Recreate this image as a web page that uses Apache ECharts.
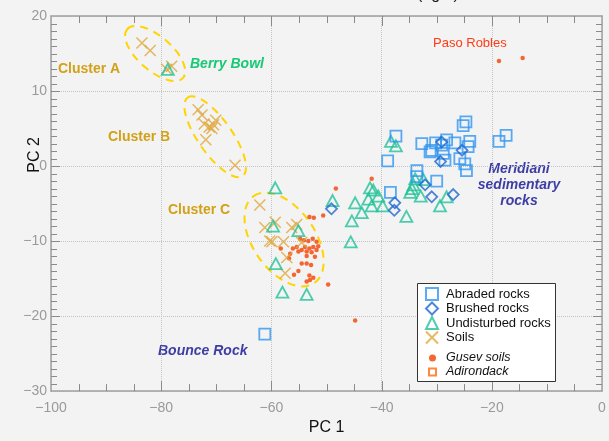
<!DOCTYPE html>
<html>
<head>
<meta charset="UTF-8">
<title>PC1 vs PC2</title>
<script src="https://cdn.jsdelivr.net/npm/echarts@6/dist/echarts.min.js"></script>
<style>
  html, body { margin: 0; padding: 0; background: #f3f3f3; }
  #chart { width: 609px; height: 441px; }
</style>
</head>
<body>
<div id="chart"></div>
<script>
// axis ranges / ticks
var xMin = -100, xMax = 0, xStep = 20;
var yMin = -30, yMax = 20, yStep = 10;
// frame tick positions (every 5 on PC 1, every 1 on PC 2)
var xTicks = [-95, -90, -85, -80, -75, -70, -65, -60, -55, -50, -45, -40, -35, -30, -25, -20, -15, -10, -5];
var yTicks = [-29, -28, -27, -26, -25, -24, -23, -22, -21, -20, -19, -18, -17, -16, -15, -14, -13, -12, -11, -10,
  -9, -8, -7, -6, -5, -4, -3, -2, -1, 0, 1, 2, 3, 4, 5, 6, 7, 8, 9, 10, 11, 12, 13, 14, 15, 16, 17, 18, 19];

// Abraded rocks (blue squares)
var abraded = [
  [-24.7, 5.9], [-25.2, 5.4], [-37.4, 4.0], [-17.4, 4.1], [-18.7, 3.3],
  [-32.7, 3.0], [-30.2, 3.1], [-28.2, 3.5], [-26.7, 3.1], [-24.0, 3.3],
  [-30.9, 2.1], [-29.1, 2.8], [-24.3, 2.6], [-31.2, 1.9], [-28.8, 1.7],
  [-38.9, 0.7], [-28.5, 0.8], [-25.8, 1.0], [-24.9, 0.3], [-24.6, -0.6],
  [-33.6, -0.6], [-33.6, -1.4], [-30.0, -2.0], [-38.4, -3.5], [-61.2, -22.4]
];
// Brushed rocks (blue diamonds)
var brushed = [
  [-29.1, 3.2], [-25.4, 2.1], [-29.3, 0.6], [-32.1, -2.5], [-30.9, -4.1],
  [-27.0, -3.8], [-37.6, -4.9], [-37.7, -5.9], [-49.1, -5.7]
];
// Undisturbed rocks (green triangles)
var undisturbed = [
  [-78.8, 12.9], [-38.3, 3.3], [-37.4, 2.7], [-42.1, -2.9], [-41.5, -3.2],
  [-33.9, -1.7], [-32.4, -1.8], [-34.2, -2.5], [-34.5, -3.0], [-34.8, -3.5],
  [-32.9, -4.0], [-28.2, -4.1], [-29.4, -5.3], [-35.5, -6.7], [-40.6, -4.0],
  [-42.4, -4.4], [-44.8, -4.9], [-41.8, -5.3], [-39.8, -5.3], [-43.6, -6.2],
  [-45.4, -7.3], [-48.9, -4.6], [-59.3, -2.9], [-59.7, -8.0], [-55.1, -8.6],
  [-59.2, -13.0], [-58.0, -16.8], [-53.6, -17.1], [-45.6, -10.1]
];
// Soils (orange crosses) - clusters A, B, C
var soils = [
  [-83.5, 16.4], [-82.0, 15.4], [-78.1, 13.3], [-79.0, 12.9],
  [-73.3, 7.5], [-72.6, 6.8], [-72.2, 5.6], [-71.3, 5.2], [-70.5, 5.5],
  [-70.1, 6.1], [-70.8, 5.0], [-71.9, 3.5], [-66.6, 0.1],
  [-62.1, -5.2], [-61.2, -8.2], [-59.3, -7.5], [-56.3, -8.2], [-55.4, -7.8],
  [-60.3, -10.0], [-59.9, -10.1], [-57.8, -10.1], [-54.5, -10.2],
  [-57.2, -12.2], [-57.5, -14.3]
];
// Gusev soils (small red-orange stars)
var gusev = [
  [-53.1, -6.8], [-52.3, -6.9], [-50.6, -6.6], [-54.8, -9.7], [-54.1, -9.9],
  [-53.3, -10.0], [-52.5, -9.7], [-51.8, -10.1], [-51.5, -10.7], [-52.4, -10.8],
  [-53.1, -11.0], [-53.9, -10.8], [-54.5, -11.2], [-55.1, -11.4], [-53.6, -11.4],
  [-52.7, -11.5], [-51.8, -11.2], [-55.4, -10.8], [-56.1, -11.0], [-56.6, -11.7],
  [-56.8, -12.3], [-58.3, -11.0], [-52.1, -12.1], [-53.6, -12.0], [-54.5, -13.0],
  [-53.6, -13.0], [-52.8, -13.2], [-55.1, -14.0], [-55.9, -14.5], [-53.1, -14.6],
  [-52.4, -14.9], [-53.6, -15.4], [-53.0, -15.2], [-49.7, -15.8],
  [-48.3, -3.0], [-41.8, -1.7], [-44.8, -20.6], [-18.7, 14.0], [-14.4, 14.4]
];
// Adirondack (none visible in the plot area)
var adirondack = [];

// dashed ellipses round the soil clusters: centre in data units
var ellipseCenters = [[-81.1, 15.0], [-70.2, 3.9], [-57.7, -9.8]];
var ellipseShape = [
  { rx: 37, ry: 17, angle: 41 },
  { rx: 48, ry: 17, angle: 55 },
  { rx: 53, ry: 31, angle: 55 }
];

var font = 'Liberation Sans, Arial, sans-serif';
var clusterColor = '#d2a116';
var blueLabel = '#3d3da6';
var axisGrey = '#8a8a8a';

var chart = echarts.init(document.getElementById('chart'));

function fmtMinus(v) { return String(v).replace('-', '\u2212'); }

function frameAxis(extra) {
  var base = {
    type: 'value',
    axisLine: { show: true, onZero: false, lineStyle: { color: '#a0a0a0', width: 1.5 } },
    axisTick: { show: false },
    minorTick: { show: false },
    axisLabel: { show: false },
    splitLine: { show: false }
  };
  return Object.assign(base, extra);
}

function tickLine(x1, y1, x2, y2) {
  return { type: 'line', shape: { x1: x1, y1: y1, x2: x2, y2: y2 },
    style: { stroke: axisGrey, lineWidth: 1 } };
}

var option = {
  backgroundColor: '#f3f3f3',
  animation: false,
  grid: { left: 51, right: 7, top: 16, bottom: 44 },
  xAxis: [
    frameAxis({
      min: xMin, max: xMax, interval: xStep,
      name: 'PC 1', nameLocation: 'middle', nameGap: 28,
      nameTextStyle: { fontFamily: font, fontSize: 16, color: '#111' },
      axisLabel: { color: '#9a9a9a', fontSize: 14, fontFamily: font, margin: 10, formatter: fmtMinus },
      splitLine: { show: true, lineStyle: { color: '#c4c4c4', type: 'dotted' } }
    }),
    frameAxis({ min: xMin, max: xMax, interval: xStep, position: 'top' })
  ],
  yAxis: [
    frameAxis({
      min: yMin, max: yMax, interval: yStep,
      axisLabel: { color: '#9a9a9a', fontSize: 14, fontFamily: font, margin: 4, formatter: fmtMinus },
      splitLine: { show: true, lineStyle: { color: '#c4c4c4', type: 'dotted' } }
    }),
    frameAxis({ min: yMin, max: yMax, interval: yStep, position: 'right' })
  ],
  legend: [
    {
      data: ['Abraded rocks', 'Brushed rocks', 'Undisturbed rocks', 'Soils'],
      orient: 'vertical', left: 425, top: 287, padding: 0,
      itemWidth: 12, itemHeight: 12, itemGap: 0.5,
      textStyle: { fontFamily: font, fontSize: 13, lineHeight: 14, color: '#111', padding: [0, 0, 0, 3] }
    },
    {
      data: ['Gusev soils', 'Adirondack'],
      orient: 'vertical', left: 428, top: 351, padding: 0,
      itemWidth: 7, itemHeight: 7, itemGap: 0,
      textStyle: { fontFamily: font, fontSize: 12.5, lineHeight: 14, fontStyle: 'italic', color: '#111', padding: [0, 0, 0, 5] }
    }
  ],
  graphic: [
    { type: 'rect', left: 417, top: 283, z: 3,
      shape: { width: 138, height: 98 },
      style: { fill: '#fff', stroke: '#333', lineWidth: 1 } },
    { type: 'text', left: 417, top: -13, style: { text: '(right)', font: '16px ' + font, fill: '#222' } },
    { type: 'text', left: 58, top: 62, style: { text: 'Cluster A', font: 'bold 14px ' + font, fill: clusterColor } },
    { type: 'text', left: 190, top: 57, style: { text: 'Berry Bowl', font: 'italic bold 14px ' + font, fill: '#17c874' } },
    { type: 'text', left: 108, top: 130, style: { text: 'Cluster B', font: 'bold 14px ' + font, fill: clusterColor } },
    { type: 'text', left: 168, top: 203, style: { text: 'Cluster C', font: 'bold 14px ' + font, fill: clusterColor } },
    { type: 'text', left: 433, top: 37, style: { text: 'Paso Robles', font: '13px ' + font, fill: '#ff3a14' } },
    { type: 'text', x: 519, y: 161, style: { text: 'Meridiani\nsedimentary\nrocks', font: 'italic bold 14px ' + font, lineHeight: 16, fill: blueLabel, align: 'center' } },
    { type: 'text', left: 158, top: 344, style: { text: 'Bounce Rock', font: 'italic bold 14px ' + font, fill: blueLabel } },
    { type: 'text', x: 35, y: 155, rotation: Math.PI / 2,
      style: { text: 'PC 2', font: '16px ' + font, fill: '#111', align: 'center', verticalAlign: 'middle' } }
  ],
  series: [
    {
      // frame ticks on bottom and top edges
      type: 'custom', name: 'xticks', silent: true, z: 1,
      data: xTicks.map(function (v) { return [v, yMin]; }),
      renderItem: function (params, api) {
        var v = api.value(0);
        var b = api.coord([v, yMin]);
        var t = api.coord([v, yMax]);
        var x = Math.round(b[0]) + 0.5;
        var len = (v % xStep === 0) ? 10 : 7;
        return { type: 'group', children: [
          tickLine(x, b[1], x, b[1] - len),
          tickLine(x, t[1], x, t[1] + len)
        ] };
      }
    },
    {
      // frame ticks on left and right edges
      type: 'custom', name: 'yticks', silent: true, z: 1,
      data: yTicks.map(function (v) { return [xMin, v]; }),
      renderItem: function (params, api) {
        var v = api.value(1);
        var l = api.coord([xMin, v]);
        var r = api.coord([xMax, v]);
        var y = Math.round(l[1]) + 0.5;
        var len = (v % yStep === 0) ? 9 : 6;
        return { type: 'group', children: [
          tickLine(l[0], y, l[0] + len, y),
          tickLine(r[0], y, r[0] - len, y)
        ] };
      }
    },
    {
      type: 'custom', name: 'clusters', silent: true, z: 1,
      data: ellipseCenters,
      renderItem: function (params, api) {
        var p = api.coord([api.value(0), api.value(1)]);
        var s = ellipseShape[params.dataIndex];
        return {
          type: 'ellipse', x: p[0], y: p[1], rotation: -s.angle * Math.PI / 180,
          shape: { cx: 0, cy: 0, rx: s.rx, ry: s.ry },
          style: { fill: 'none', stroke: '#ffd400', lineWidth: 2, lineDash: [8, 6] }
        };
      }
    },
    {
      type: 'scatter', name: 'Gusev soils', data: gusev,
      symbol: 'circle', symbolSize: 4.5,
      itemStyle: { color: '#f4561c', opacity: 0.9 }
    },
    {
      type: 'scatter', name: 'Adirondack', data: adirondack,
      symbol: 'rect', symbolSize: 7,
      itemStyle: { color: 'transparent', borderColor: '#ff6a10', borderWidth: 2 }
    },
    {
      type: 'scatter', name: 'Soils', data: soils,
      symbol: 'path://M0,0L10,10M10,0L0,10', symbolSize: 11,
      itemStyle: { color: 'transparent', borderColor: '#dfa63a', borderWidth: 1.5 }
    },
    {
      type: 'scatter', name: 'Undisturbed rocks', data: undisturbed,
      symbol: 'triangle', symbolSize: [12, 11],
      itemStyle: { color: 'transparent', borderColor: '#22c29a', borderWidth: 1.8 }
    },
    {
      type: 'scatter', name: 'Abraded rocks', data: abraded,
      symbol: 'rect', symbolSize: 11,
      itemStyle: { color: 'transparent', borderColor: '#3196f0', borderWidth: 1.8 }
    },
    {
      type: 'scatter', name: 'Brushed rocks', data: brushed,
      symbol: 'diamond', symbolSize: 11,
      itemStyle: { color: 'transparent', borderColor: '#1f68d0', borderWidth: 1.8 }
    }
  ]
};

chart.setOption(option);
</script>
</body>
</html>
